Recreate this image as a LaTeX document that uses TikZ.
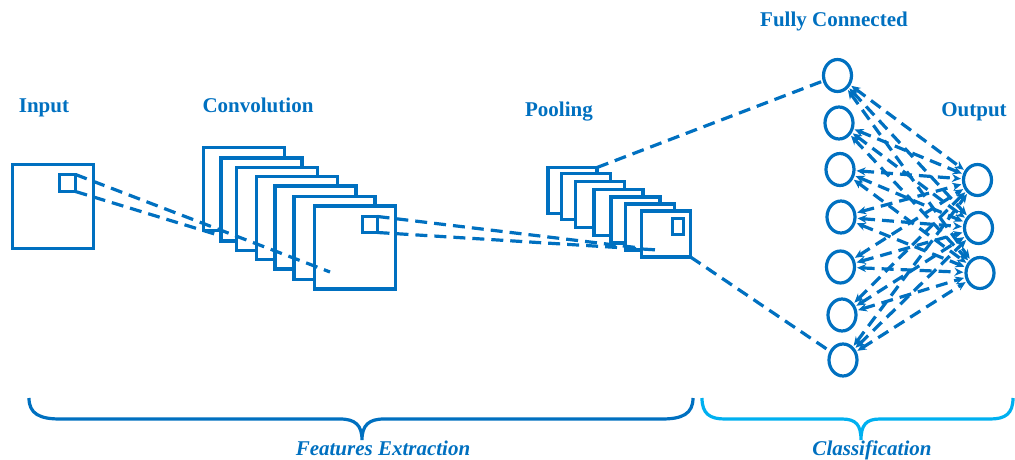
\documentclass[tikz,border=0pt]{standalone}
\usepackage{fontspec}
\setmainfont{Liberation Serif}
\usetikzlibrary{arrows.meta,shapes.geometric}
\definecolor{cnnblue}{HTML}{0070C0}
\definecolor{lightblue}{HTML}{00B0F0}
\begin{document}
\begin{tikzpicture}[x=1pt,y=-1pt,
  sheet/.style={draw=cnnblue,line width=3.2pt,fill=white,inner sep=0pt,outer sep=0pt},
  convsheet/.style={sheet,minimum width=81pt,minimum height=83pt},
  poolsheet/.style={sheet,minimum width=49pt,minimum height=46pt},
  kernel/.style={draw=cnnblue,line width=3pt,inner sep=0pt,outer sep=0pt},
  neuron/.style={draw=cnnblue,line width=3.2pt,ellipse,fill=white,minimum width=28pt,minimum height=32pt,inner sep=0pt},
  link/.style={draw=cnnblue,line width=3.2pt,dash pattern=on 12pt off 7pt},
  fclink/.style={link,{Stealth[length=9pt,width=8pt]}-{Stealth[length=9pt,width=8pt]},shorten <=1pt,shorten >=1pt},
  title/.style={text=cnnblue,font=\fontsize{21}{21}\selectfont\bfseries,anchor=base,inner sep=0pt},
  group/.style={text=cnnblue,font=\fontsize{21}{21}\selectfont\bfseries\itshape,anchor=base,inner sep=0pt},
  brace/.style={line width=3.2pt}
]
\useasboundingbox (0,0) rectangle (1015,460);

% titles
\node[title] (tin) at (44,112) {Input};
\node[title] (tconv) at (258,112) {Convolution};
\node[title] (tpool) at (559,117) {Pooling};
\node[title] (tfc) at (834,27) {Fully Connected};
\node[title] (tout) at (974,117) {Output};

% input
\node[convsheet,minimum height=84pt] (in) at (53,206.5) {};
\node[kernel,minimum width=16pt,minimum height=17pt] (ink) at (67.5,183) {};

% convolution stack
\node[convsheet] (c1) at (244,189) {};
\node[convsheet] (c2) at (261.5,199.5) {};
\node[convsheet] (c3) at (277,209) {};
\node[convsheet] (c4) at (297,218) {};
\node[convsheet] (c5) at (315.5,227.5) {};
\node[convsheet] (c6) at (334.5,238) {};
\node[convsheet] (c7) at (355,247.5) {};
\node[kernel,minimum width=15pt,minimum height=16pt] (ck) at (370,224.5) {};

% input -> convolution
\coordinate (ce1) at (330,272);
\coordinate (ce2) at (218,235);
\draw[link] (ink.north east) -- (ce1);
\draw[link] (ink.south east) -- (ce2);

% pooling stack
\node[poolsheet] (p1) at (572.5,190.5) {};
\node[poolsheet] (p2) at (586,196.5) {};
\node[poolsheet] (p3) at (600,204.5) {};
\node[poolsheet] (p4) at (618.5,212.5) {};
\node[poolsheet] (p5) at (635.5,220) {};
\node[poolsheet] (p6) at (650,227) {};
\node[poolsheet] (p7) at (666,234) {};
\node[kernel,minimum width=11pt,minimum height=16pt] (pk) at (677.5,226) {};

% convolution -> pooling
\coordinate (pe1) at (640,248);
\coordinate (pe2) at (658,250);
\draw[link] (ck.north east) -- (pe1);
\draw[link] (ck.south east) -- (pe2);

% fully connected layer
\node[neuron] (f1) at (837.5,75.5) {};
\node[neuron] (f2) at (839,123) {};
\node[neuron] (f3) at (840,169.5) {};
\node[neuron] (f4) at (841,217) {};
\node[neuron] (f5) at (840.5,267) {};
\node[neuron] (f6) at (842,315) {};
\node[neuron] (f7) at (843,360) {};

% output layer
\node[neuron,minimum width=28pt,minimum height=31pt] (o1) at (977.5,180) {};
\node[neuron,minimum width=28pt,minimum height=31pt] (o2) at (978.5,228) {};
\node[neuron,minimum width=28pt,minimum height=31pt] (o3) at (980,273) {};

% pooling -> fully connected
\draw[link] (p1.north east) -- (f1);
\draw[link] (p7.south east) -- (f7);

% fully connected <-> output
\foreach \f in {f1,f2,f3,f4,f5,f6,f7}{
  \foreach \o in {o1,o2,o3}{
    \draw[fclink] (\f) -- (\o);
  }
}

% braces
\draw[brace,draw=cnnblue] (29,398) .. controls (29,414) and (40,419) .. (60,419)
  -- (340,419) .. controls (355,419) and (362,425) .. (362,440)
  .. controls (362,425) and (369,419) .. (384,419)
  -- (662,419) .. controls (682,419) and (693,414) .. (693,398);
\draw[brace,draw=lightblue] (702,398) .. controls (702,414) and (710,419) .. (725,419)
  -- (842,419) .. controls (856,419) and (861,425) .. (861,440)
  .. controls (861,425) and (866,419) .. (880,419)
  -- (990,419) .. controls (1005,419) and (1013,414) .. (1013,398);

\node[group] (gfe) at (383,455) {Features Extraction};
\node[group] (gcl) at (872,455) {Classification};
\end{tikzpicture}
\end{document}
